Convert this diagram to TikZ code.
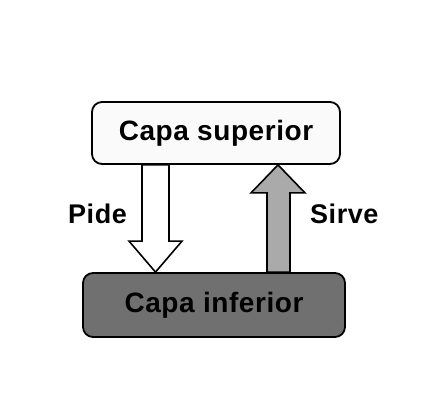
\documentclass[tikz,border=0pt]{standalone}
\usepackage{xcolor}
\usepackage{tikz}
\usepackage{fontspec}
\setmainfont{Liberation Sans}[LetterSpace=2]
\usetikzlibrary{positioning,calc}

\definecolor{capagris}{RGB}{112,112,112}
\definecolor{flechagris}{RGB}{170,170,170}
\definecolor{capaclara}{RGB}{250,250,250}

\begin{document}
\begin{tikzpicture}[x=1pt,y=1pt,
    capa/.style={draw,rectangle,rounded corners=10pt,line width=1.8pt,font=\fontsize{28}{32}\selectfont\bfseries},
    flecha/.style={draw,line width=1.6pt,line join=miter},
    etiqueta/.style={inner sep=0pt,font=\fontsize{27}{31}\selectfont\bfseries}]
    \useasboundingbox (0,0) rectangle (433,405);

    % Layers
    \node[capa,fill=capaclara,minimum width=248pt,minimum height=62pt] (sup) at (216,272) {Capa superior};
    \node[capa,fill=capagris,minimum width=262pt,minimum height=64pt] (inf) at (214,100) {Capa inferior};

    % Pide (down)
    \draw[flecha,fill=white] ($(sup.south)+(-74,0)$) -- ($(sup.south)+(-47,0)$) -- ($(inf.north)+(-45,31)$) -- ($(inf.north)+(-32,31)$) -- ($(inf.north)+(-58.5,0)$) -- ($(inf.north)+(-85,31)$) -- ($(inf.north)+(-72,31)$) -- cycle;

    % Sirve (up)
    \draw[flecha,fill=flechagris] ($(inf.north)+(53,0)$) -- ($(inf.north)+(76,0)$) -- ($(sup.south)+(74,-28)$) -- ($(sup.south)+(89,-28)$) -- ($(sup.south)+(62,0)$) -- ($(sup.south)+(35,-28)$) -- ($(sup.south)+(51,-28)$) -- cycle;

    \node[etiqueta,anchor=east] (pide) at (127,191) {Pide};
    \node[etiqueta,anchor=west] (sirve) at (310,191) {Sirve};
\end{tikzpicture}
\end{document}
